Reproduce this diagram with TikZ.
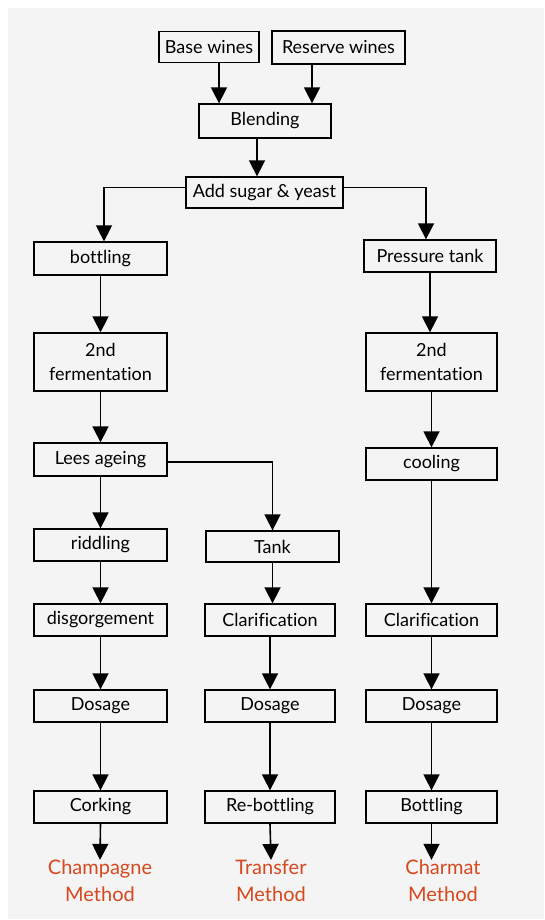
\documentclass[tikz,border=0pt]{standalone}
\usepackage{fontspec}
\setmainfont[Ligatures=NoCommon]{Lato}
\usetikzlibrary{arrows.meta}
\definecolor{bggray}{RGB}{244,244,244}
\definecolor{methodred}{RGB}{214,72,30}

\begin{document}
\begin{tikzpicture}[x=1pt,y=-1pt,
	box/.style={draw, line width=1.3pt, minimum width=133pt, minimum height=32pt, inner sep=0pt, align=center, font=\fontsize{18}{24}\selectfont},
	arr/.style={line width=1.6pt, -{Triangle[width=16pt,length=16pt]}},
	method/.style={text=methodred, inner sep=0pt, align=center, font=\fontsize{20}{27}\selectfont}]
	
	% Background
	\fill[white] (0,0) rectangle (544,920);
	\fill[bggray] (8,8) rectangle (544,919);
	\useasboundingbox (0,0) rectangle (544,920);
	
	% Blending
	\node[box, minimum width=100pt, minimum height=31pt] (base) at (209,47) {Base wines};
	\node[box, minimum height=33pt] (reserve) at (338.5,47.5) {Reserve wines};
	\node[box, minimum width=132pt, minimum height=34pt] (blend) at (265,121) {Blending};
	\node[box, minimum width=157pt, minimum height=31pt] (sugar) at (264.5,192.5) {Add sugar \& yeast};
	
	% Champagne method
	\node[box, minimum height=33pt] (bottling) at (100.5,258.5) {bottling};
	\node[box, minimum height=58pt] (fermA) at (100.5,362) {2nd\\fermentation};
	\node[box, minimum height=33pt] (lees) at (100.5,459.5) {Lees ageing};
	\node[box] (riddling) at (100.5,545) {riddling};
	\node[box] (disgorge) at (100.5,620) {disgorgement};
	\node[box] (dosageA) at (100.5,706) {Dosage};
	\node[box] (corking) at (100.5,807) {Corking};
	\node[method] (champagne) at (100,881) {Champagne\\Method};
	
	% Transfer method
	\node[box, minimum height=31pt] (tank) at (272.5,546.5) {Tank};
	\node[box, minimum width=130pt] (clarB) at (270,620) {Clarification};
	\node[box, minimum width=130pt] (dosageB) at (270,706) {Dosage};
	\node[box, minimum width=130pt] (rebottling) at (270,807) {Re-bottling};
	\node[method] (transfer) at (271,881) {Transfer\\Method};
	
	% Charmat method
	\node[box, minimum width=132pt] (ptank) at (430,256) {Pressure tank};
	\node[box, minimum width=131pt, minimum height=58pt] (fermC) at (431.5,362) {2nd\\fermentation};
	\node[box, minimum width=131pt] (cooling) at (431.5,464) {cooling};
	\node[box, minimum width=131pt] (clarC) at (431.5,620) {Clarification};
	\node[box, minimum width=131pt] (dosageC) at (431.5,706) {Dosage};
	\node[box, minimum width=131pt] (bottlingC) at (431.5,807) {Bottling};
	\node[method] (charmat) at (443,881) {Charmat\\Method};
	
	% Arrows
	\draw[arr] ([xshift=10pt]base.south) -- ([xshift=10pt]base.south |- blend.north);
	\draw[arr] ([xshift=-26.5pt]reserve.south) -- ([xshift=-26.5pt]reserve.south |- blend.north);
	\draw[arr] ([xshift=-8pt]blend.south) -- ([xshift=-8pt]blend.south |- sugar.north);
	\draw[arr] ([yshift=5pt]sugar.west) -| ([xshift=3.5pt]bottling.north);
	\draw[arr] ([yshift=5pt]sugar.east) -| ([xshift=-4pt]ptank.north);
	
	\foreach \a/\b in {bottling/fermA, fermA/lees, lees/riddling, riddling/disgorge, disgorge/dosageA, dosageA/corking, corking/champagne,
		clarB/dosageB, dosageB/rebottling, rebottling/transfer,
		fermC/cooling, cooling/clarC, clarC/dosageC, dosageC/bottlingC} {
		\draw[arr] (\a.south) -- (\b.north);
	}
	\draw[arr] (ptank.south) -- (ptank.south |- fermC.north);
	\draw[arr] (tank.south) -- (clarB.north -| tank.south);
	\draw[arr] (bottlingC.south) -- (bottlingC.south |- charmat.north);
	\draw[arr] ([yshift=-2.5pt]lees.east) -| (tank.north);
\end{tikzpicture}
\end{document}
